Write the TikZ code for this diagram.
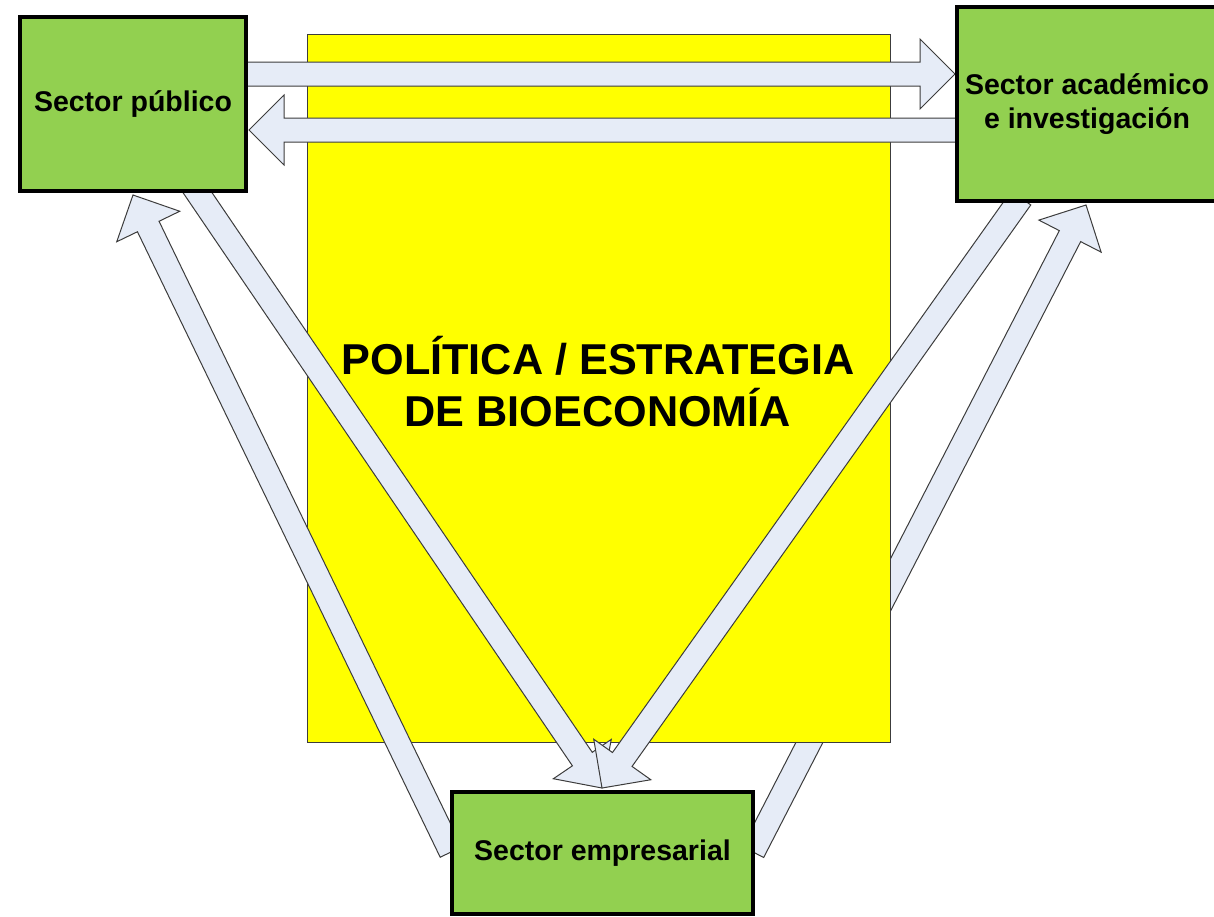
\documentclass[tikz,border=0pt]{standalone}
\usepackage{fontspec}
\setmainfont{Liberation Sans}
\usetikzlibrary{calc}
\definecolor{boxgreen}{HTML}{92D050}
\definecolor{polyellow}{HTML}{FFFF00}
\definecolor{arrowfill}{HTML}{E6ECF7}
\definecolor{arrowline}{HTML}{3C3C3C}
\tikzset{
  sectorbox/.style={draw=black, line width=4pt, fill=boxgreen, inner sep=0pt,
    align=center, font=\fontsize{28.5}{34}\selectfont\bfseries},
  polrect/.style={draw=arrowline, line width=1pt, fill=polyellow, inner sep=0pt},
  titletext/.style={align=center, font=\fontsize{43.2}{52}\selectfont\bfseries},
  barrow/.style={draw=arrowline, line width=1pt, fill=arrowfill, line join=miter}
}
\newcommand{\blockarrow}[2]{%
  \coordinate (ba-h) at ($(#2)!35pt!(#1)$);
  \draw[barrow] ($(#1)!12pt!90:(#2)$) -- ($(ba-h)!12pt!90:(#2)$)
    -- ($(ba-h)!35pt!90:(#2)$) -- (#2) -- ($(ba-h)!35pt!-90:(#2)$)
    -- ($(ba-h)!12pt!-90:(#2)$) -- ($(#1)!12pt!-90:(#2)$) -- cycle;
}
\begin{document}
\begin{tikzpicture}[x=1pt, y=-1pt]
\useasboundingbox (0,0) rectangle (1214,916);
% endpoints of the block arrows
\coordinate (a1s) at (240,74);   \coordinate (a1e) at (955,74);
\coordinate (a2s) at (965,130);  \coordinate (a2e) at (249,130);
\coordinate (a3s) at (451,852);  \coordinate (a3e) at (133,195);
\coordinate (a4s) at (193,186);  \coordinate (a4e) at (602,788);
\coordinate (a5s) at (1021,198); \coordinate (a5e) at (602,788);
\coordinate (a6s) at (753,852);  \coordinate (a6e) at (1086,205);
% arrow passing behind the yellow block
\blockarrow{a6s}{a6e}
% central block
\node[polrect, minimum width=583, minimum height=708] (pol) at (598.5,388) {};
\node[titletext] (title) at (598,382) {POLÍTICA / ESTRATEGIA\\DE BIOECONOMÍA};
% other arrows
\blockarrow{a1s}{a1e}
\blockarrow{a2s}{a2e}
\blockarrow{a3s}{a3e}
\blockarrow{a4s}{a4e}
\blockarrow{a5s}{a5e}
% sector boxes
\node[sectorbox, minimum width=226, minimum height=174] (pub) at (133,104) {Sector público};
\node[sectorbox, minimum width=260, minimum height=194] (acad) at (1087,104) {Sector académico\\e investigación};
\node[sectorbox, minimum width=301, minimum height=122] (emp) at (602.5,853) {Sector empresarial};
\end{tikzpicture}
\end{document}
